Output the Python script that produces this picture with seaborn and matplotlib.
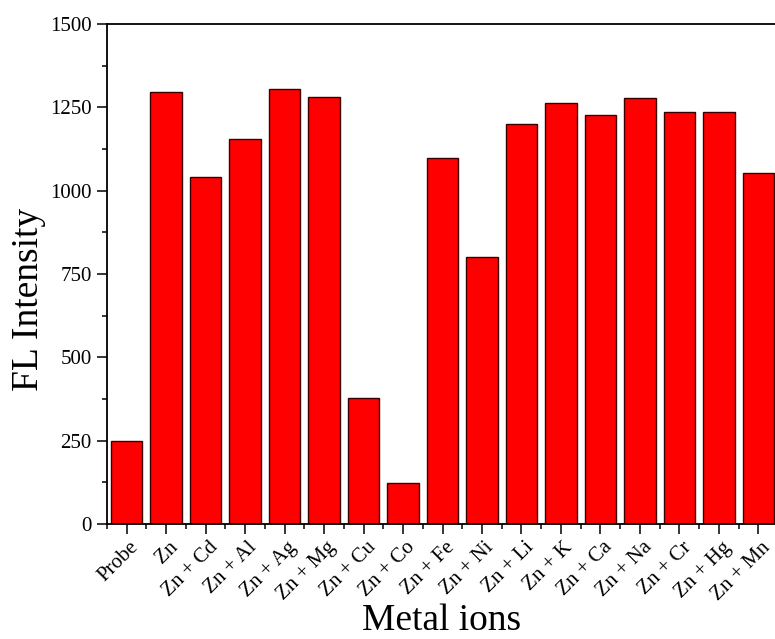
import matplotlib
matplotlib.use("Agg")
import matplotlib.pyplot as plt
import matplotlib.transforms as mtransforms
from matplotlib.ticker import MultipleLocator, FixedLocator
import seaborn as sns
import pandas as pd

categories = ["Probe", "Zn", "Zn + Cd", "Zn + Al", "Zn + Ag", "Zn + Mg", "Zn + Cu",
              "Zn + Co", "Zn + Fe", "Zn + Ni", "Zn + Li", "Zn + K", "Zn + Ca",
              "Zn + Na", "Zn + Cr", "Zn + Hg", "Zn + Mn"]
intensity = [250, 1297, 1040, 1156, 1305, 1281, 378, 122, 1098, 801, 1199,
             1264, 1228, 1277, 1236, 1237, 1053]
yticks = [0, 250, 500, 750, 1000, 1250, 1500]

df = pd.DataFrame({"ion": categories, "fl": intensity})

sns.set_theme(style="ticks")
plt.rcParams["font.family"] = ["Liberation Serif", "DejaVu Serif"]
plt.rcParams["text.color"] = "black"
plt.rcParams["axes.labelcolor"] = "black"
plt.rcParams["xtick.color"] = "black"
plt.rcParams["ytick.color"] = "black"

fig = plt.figure(figsize=(7.75, 6.39), dpi=100)
ax = fig.add_axes([0.138, 0.180, 0.866, 0.7826])

sns.barplot(data=df, x="ion", y="fl", color="#ff0000", saturation=1, width=0.8,
            edgecolor="#3a0000", linewidth=1.0, ax=ax)

ax.set_xlim(-0.5, 16.5)
ax.set_ylim(0, 1500)
ax.set_yticks(yticks)
ax.set_yticklabels([str(v) for v in yticks], fontsize=15)
ax.yaxis.set_minor_locator(MultipleLocator(125))
ax.xaxis.set_minor_locator(FixedLocator([i + 0.5 for i in range(-1, 17)]))

ax.tick_params(axis="both", which="major", direction="out", length=7, width=1.1,
               color="black", pad=4)
ax.tick_params(axis="both", which="minor", direction="out", length=3.5, width=1.1,
               color="black")
ax.tick_params(axis="x", which="major", pad=3)

ax.set_xticks(range(len(categories)))
ax.set_xticklabels(categories, rotation=45, ha="right", va="top",
                   rotation_mode="anchor", fontsize=15)
offset = mtransforms.ScaledTranslation(0.025, 0.0, fig.dpi_scale_trans)
for lbl in ax.get_xticklabels():
    lbl.set_transform(lbl.get_transform() + offset)

for s in ["left", "bottom", "top"]:
    ax.spines[s].set_visible(True)
    ax.spines[s].set_linewidth(1.3)
    ax.spines[s].set_color("black")
ax.spines["right"].set_visible(False)

ax.set_xlabel("Metal ions", fontsize=27)
ax.xaxis.set_label_coords(0.499, -0.16)
ax.set_ylabel("FL Intensity", fontsize=27)
ax.yaxis.set_label_coords(-0.091, 0.45)

fig.savefig("out.png", dpi=100, facecolor="white")
